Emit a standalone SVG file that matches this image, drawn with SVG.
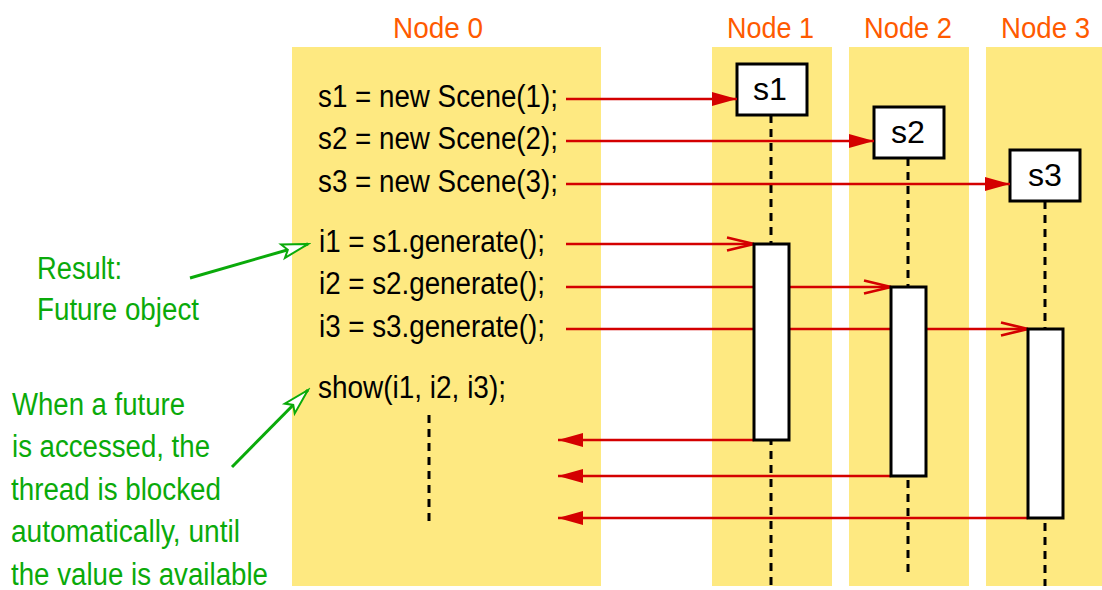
<svg xmlns="http://www.w3.org/2000/svg" width="1102" height="590" viewBox="0 0 1102 590">
  <style>
    .lane { fill: #fee981; }
    .title { font-family: "Liberation Sans", Arial, sans-serif; font-size: 30px; fill: #ff5a00; }
    .code { font-family: "Liberation Sans", Arial, sans-serif; font-size: 31px; fill: #000; }
    .note { font-family: "Liberation Sans", Arial, sans-serif; font-size: 31px; fill: #0aaa0a; }
    .obj { fill: #fff; stroke: #000; stroke-width: 3; }
    .objlabel { font-family: "Liberation Sans", Arial, sans-serif; font-size: 31px; fill: #000; }
    .life { stroke: #000; stroke-width: 3; stroke-dasharray: 8 6; fill: none; }
    .msg { stroke: #d40000; stroke-width: 2.6; fill: none; }
    .hint { stroke: #0aaa0a; stroke-width: 3; fill: none; }
  </style>
  <defs>
    <marker id="solidHead" markerUnits="userSpaceOnUse" markerWidth="26" markerHeight="16" refX="25" refY="7" orient="auto">
      <path d="M0,0 L25,7 L0,14 Z" fill="#d40000"/>
    </marker>
    <marker id="openHead" markerUnits="userSpaceOnUse" markerWidth="32" markerHeight="18" refX="28" refY="8" orient="auto">
      <path d="M1,1.5 L28,8 L1,14.5" fill="none" stroke="#d40000" stroke-width="2.6"/>
    </marker>
    <marker id="hintHead" markerUnits="userSpaceOnUse" markerWidth="32" markerHeight="20" refX="29" refY="10" orient="auto">
      <path d="M29,10 L3,3 L8,10 L3,17 Z" fill="#fff" stroke="#0aaa0a" stroke-width="2" stroke-linejoin="miter"/>
    </marker>
  </defs>

  <!-- Node 0: the calling program -->
  <g id="node0">
    <rect class="lane" x="292" y="47" width="309" height="539"/>
    <text class="title" x="393" y="38" textLength="90" lengthAdjust="spacingAndGlyphs">Node 0</text>
    <text class="code" x="318" y="107" textLength="240" lengthAdjust="spacingAndGlyphs">s1 = new Scene(1);</text>
    <text class="code" x="318" y="149" textLength="240" lengthAdjust="spacingAndGlyphs">s2 = new Scene(2);</text>
    <text class="code" x="318" y="192" textLength="240" lengthAdjust="spacingAndGlyphs">s3 = new Scene(3);</text>
    <text class="code" x="319" y="252" textLength="226" lengthAdjust="spacingAndGlyphs">i1 = s1.generate();</text>
    <text class="code" x="319" y="294" textLength="226" lengthAdjust="spacingAndGlyphs">i2 = s2.generate();</text>
    <text class="code" x="319" y="337" textLength="226" lengthAdjust="spacingAndGlyphs">i3 = s3.generate();</text>
    <text class="code" x="318" y="398" textLength="188" lengthAdjust="spacingAndGlyphs">show(i1, i2, i3);</text>
    <line class="life" x1="429" y1="415" x2="429" y2="527"/>
  </g>

  <!-- Node 1 -->
  <g id="node1">
    <rect class="lane" x="712" y="47" width="120" height="539"/>
    <text class="title" x="727" y="38" textLength="87" lengthAdjust="spacingAndGlyphs">Node 1</text>
    <line class="life" x1="771" y1="115" x2="771" y2="586"/>
    <rect class="obj" x="737" y="64" width="70" height="51"/>
    <text class="objlabel" x="753" y="100" textLength="34" lengthAdjust="spacingAndGlyphs">s1</text>
  </g>

  <!-- Node 2 -->
  <g id="node2">
    <rect class="lane" x="849" y="47" width="120" height="539"/>
    <text class="title" x="864" y="38" textLength="88" lengthAdjust="spacingAndGlyphs">Node 2</text>
    <line class="life" x1="908" y1="158" x2="908" y2="578"/>
    <rect class="obj" x="874" y="107" width="70" height="51"/>
    <text class="objlabel" x="891" y="143" textLength="34" lengthAdjust="spacingAndGlyphs">s2</text>
  </g>

  <!-- Node 3 -->
  <g id="node3">
    <rect class="lane" x="986" y="47" width="116" height="539"/>
    <text class="title" x="1001" y="38" textLength="89" lengthAdjust="spacingAndGlyphs">Node 3</text>
    <line class="life" x1="1045" y1="201" x2="1045" y2="586"/>
    <rect class="obj" x="1010" y="150" width="70" height="51"/>
    <text class="objlabel" x="1028" y="186" textLength="34" lengthAdjust="spacingAndGlyphs">s3</text>
  </g>

  <!-- Annotations -->
  <g id="note-result">
    <text class="note" x="37" y="279" textLength="85" lengthAdjust="spacingAndGlyphs">Result:</text>
    <text class="note" x="37" y="320" textLength="162" lengthAdjust="spacingAndGlyphs">Future object</text>
  </g>
  <g id="note-blocking">
    <text class="note" x="12" y="415" textLength="173" lengthAdjust="spacingAndGlyphs">When a future</text>
    <text class="note" x="12" y="457" textLength="198" lengthAdjust="spacingAndGlyphs">is accessed, the</text>
    <text class="note" x="11" y="500" textLength="210" lengthAdjust="spacingAndGlyphs">thread is blocked</text>
    <text class="note" x="11" y="542" textLength="229" lengthAdjust="spacingAndGlyphs">automatically, until</text>
    <text class="note" x="11" y="585" textLength="257" lengthAdjust="spacingAndGlyphs">the value is available</text>
  </g>

  <!-- Messages between nodes -->
  <g id="connectors">
    <line class="msg" x1="566" y1="99" x2="737" y2="99" marker-end="url(#solidHead)"/>
    <line class="msg" x1="566" y1="141" x2="874" y2="141" marker-end="url(#solidHead)"/>
    <line class="msg" x1="566" y1="184" x2="1010" y2="184" marker-end="url(#solidHead)"/>

    <line class="msg" x1="566" y1="244" x2="754" y2="244" marker-end="url(#openHead)"/>
    <line class="msg" x1="566" y1="287" x2="891" y2="287" marker-end="url(#openHead)"/>
    <line class="msg" x1="566" y1="329" x2="1028" y2="329" marker-end="url(#openHead)"/>

    <line class="msg" x1="754" y1="440" x2="558" y2="440" marker-end="url(#solidHead)"/>
    <line class="msg" x1="891" y1="476" x2="558" y2="476" marker-end="url(#solidHead)"/>
    <line class="msg" x1="1028" y1="518" x2="558" y2="518" marker-end="url(#solidHead)"/>

    <line class="hint" x1="190" y1="278" x2="308" y2="244" marker-end="url(#hintHead)"/>
    <line class="hint" x1="232" y1="467" x2="308" y2="390" marker-end="url(#hintHead)"/>
  </g>

  <!-- Activation bars drawn over the message lines -->
  <g id="node1-activation">
    <rect class="obj" x="754" y="244" width="35" height="196"/>
  </g>
  <g id="node2-activation">
    <rect class="obj" x="891" y="287" width="35" height="189"/>
  </g>
  <g id="node3-activation">
    <rect class="obj" x="1028" y="329" width="35" height="189"/>
  </g>
</svg>
